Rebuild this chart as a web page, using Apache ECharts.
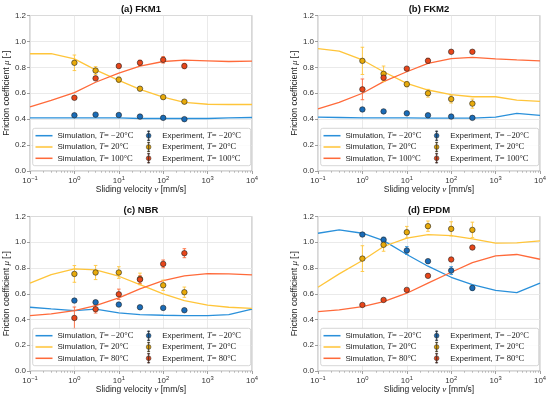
<!DOCTYPE html>
<html><head><meta charset="utf-8">
<script src="https://cdn.jsdelivr.net/npm/echarts@6/dist/echarts.min.js"></script>
<style>html,body{margin:0;padding:0;background:#fff}#c{width:550px;height:397px}</style>
</head><body><div id="c"></div>
<script>
// ---------------- data ----------------
const simVel = [0.1, 0.3, 1, 3, 10, 30, 100, 300, 1000, 3000, 10000];
const expVel = [1, 3, 10, 30, 100, 300];
const panelTitles = ['(a) FKM1', '(b) FKM2', '(c) NBR', '(d) EPDM'];
const tempLabels = [['−20', '20', '100'], ['−20', '20', '100'], ['−20', '20', '80'], ['−20', '20', '80']];
const xTickValues = [0.1, 1, 10, 100, 1000, 10000];
const yTickValues = [0, 0.2, 0.4, 0.6, 0.8, 1.0, 1.2];

// (a) FKM1
const simA_cold = [0.41, 0.41, 0.41, 0.41, 0.41, 0.405, 0.405, 0.405, 0.405, 0.41, 0.413];
const simA_room = [0.905, 0.905, 0.865, 0.78, 0.70, 0.63, 0.57, 0.53, 0.515, 0.513, 0.513];
const simA_hot  = [0.495, 0.545, 0.605, 0.685, 0.755, 0.81, 0.845, 0.855, 0.85, 0.845, 0.848];
const expA_cold = [0.43, 0.435, 0.432, 0.42, 0.41, 0.40];
const errA_cold = [0.01, 0.01, 0.01, 0.01, 0.01, 0.01];
const expA_room = [0.835, 0.775, 0.705, 0.635, 0.57, 0.535];
const errA_room = [0.06, 0.03, 0.02, 0.01, 0.01, 0.01];
const expA_hot  = [0.565, 0.715, 0.81, 0.835, 0.858, 0.81];
const errA_hot  = [0.01, 0.01, 0.015, 0.02, 0.025, 0.02];

// (b) FKM2
const simB_cold = [0.415, 0.413, 0.41, 0.41, 0.41, 0.408, 0.408, 0.408, 0.415, 0.445, 0.43];
const simB_room = [0.945, 0.925, 0.857, 0.766, 0.676, 0.625, 0.59, 0.573, 0.573, 0.547, 0.537];
const simB_hot  = [0.48, 0.53, 0.60, 0.69, 0.766, 0.83, 0.867, 0.877, 0.865, 0.857, 0.85];
const expB_cold = [0.475, 0.46, 0.445, 0.43, 0.42, 0.41];
const errB_cold = [0.01, 0.01, 0.01, 0.01, 0.01, 0.01];
const expB_room = [0.85, 0.75, 0.67, 0.60, 0.555, 0.52];
const errB_room = [0.105, 0.06, 0.02, 0.03, 0.03, 0.035];
const expB_hot  = [0.63, 0.72, 0.79, 0.85, 0.92, 0.92];
const errB_hot  = [0.08, 0.02, 0.01, 0.02, 0.01, 0.01];

// (c) NBR
const simC_cold = [0.495, 0.482, 0.469, 0.48, 0.451, 0.438, 0.433, 0.43, 0.43, 0.438, 0.48];
const simC_room = [0.682, 0.749, 0.793, 0.785, 0.736, 0.671, 0.599, 0.547, 0.511, 0.495, 0.487];
const simC_hot  = [0.43, 0.443, 0.469, 0.508, 0.568, 0.638, 0.702, 0.739, 0.757, 0.754, 0.746];
const expC_cold = [0.547, 0.534, 0.516, 0.495, 0.49, 0.472];
const errC_cold = [0.01, 0.01, 0.01, 0.01, 0.01, 0.01];
const expC_room = [0.754, 0.765, 0.765, 0.715, 0.666, 0.612];
const errC_room = [0.065, 0.055, 0.045, 0.045, 0.04, 0.04];
const expC_hot  = [0.412, 0.48, 0.596, 0.71, 0.832, 0.915];
const errC_hot  = [0.085, 0.03, 0.04, 0.03, 0.03, 0.035];

// (d) EPDM
const simD_cold = [1.07, 1.096, 1.07, 1.013, 0.905, 0.814, 0.728, 0.671, 0.627, 0.609, 0.682];
const simD_room = [0.651, 0.754, 0.858, 0.967, 1.032, 1.06, 1.052, 1.026, 0.993, 0.995, 1.011];
const simD_hot  = [0.461, 0.474, 0.50, 0.539, 0.604, 0.682, 0.767, 0.842, 0.894, 0.905, 0.868];
const expD_cold = [1.06, 1.019, 0.936, 0.853, 0.78, 0.645];
const errD_cold = [0.01, 0.02, 0.03, 0.01, 0.03, 0.02];
const expD_room = [0.873, 0.98, 1.078, 1.125, 1.104, 1.096];
const errD_room = [0.10, 0.05, 0.045, 0.04, 0.055, 0.06];
const expD_hot  = [0.513, 0.552, 0.63, 0.739, 0.866, 0.959];
const errD_hot  = [0.01, 0.01, 0.01, 0.01, 0.01, 0.01];

// ---------------- assembly ----------------
const panels = [
  {sim: [simA_cold, simA_room, simA_hot], exp: [expA_cold, expA_room, expA_hot], err: [errA_cold, errA_room, errA_hot]},
  {sim: [simB_cold, simB_room, simB_hot], exp: [expB_cold, expB_room, expB_hot], err: [errB_cold, errB_room, errB_hot]},
  {sim: [simC_cold, simC_room, simC_hot], exp: [expC_cold, expC_room, expC_hot], err: [errC_cold, errC_room, errC_hot]},
  {sim: [simD_cold, simD_room, simD_hot], exp: [expD_cold, expD_room, expD_hot], err: [errD_cold, errD_room, errD_hot]}
];

const SANS = '"Liberation Sans", Arial, sans-serif';
const SERIF = '"Liberation Serif", "Times New Roman", serif';
const lineColors = ['#2a90da', '#ffc53a', '#ff6a3a'];
const markColors = ['#1a6cb8', '#e8aa0a', '#e8461a'];

const G = [
  {l: 30, t: 15.5, w: 222, h: 155.5},
  {l: 318, t: 15.5, w: 222, h: 155.5},
  {l: 30, t: 216.5, w: 222, h: 154.5},
  {l: 318, t: 216.5, w: 222, h: 154.5}
];

const minorVals = [];
for (let e = -1; e < 4; e++) for (let m = 2; m < 10; m++) minorVals.push(+(m * Math.pow(10, e)).toPrecision(3));

const grid = [], xAxis = [], yAxis = [], series = [], legend = [], graphicEls = [];

G.forEach((g, p) => {
  grid.push({left: g.l, top: g.t, width: g.w, height: g.h, show: true, borderColor: '#9a9a9a', borderWidth: 0.8, backgroundColor: 'transparent', outerBoundsMode: 'none'});
  xAxis.push({
    type: 'log', gridIndex: p, logBase: 10, min: 0.1, max: 10000, splitNumber: 5,
    name: 'Sliding velocity {i|v} [mm/s]', nameLocation: 'middle', nameGap: 12,
    nameTextStyle: {fontFamily: SANS, fontSize: 8.5, color: '#222', rich: {i: {fontFamily: SERIF, fontStyle: 'italic', fontSize: 9, color: '#222'}}},
    axisLine: {show: false},
    axisTick: {show: true, length: 3, customValues: xTickValues, lineStyle: {color: '#888', width: 0.8}},
    axisLabel: {
      margin: 4, fontFamily: SANS, fontSize: 8, color: '#333', customValues: xTickValues,
      formatter: v => { const e = Math.round(Math.log10(v)); return '10{s|' + (e < 0 ? '−' + (-e) : e) + '}'; },
      rich: {s: {fontFamily: SANS, fontSize: 5.8, color: '#333', padding: [0, 0, 5, 0]}}
    },
    splitLine: {show: true, lineStyle: {color: '#e4e4e4', width: 0.8}}
  });
  yAxis.push({
    type: 'value', gridIndex: p, min: 0, max: 1.2, interval: 0.2,
    name: 'Friction coefficient {i|μ} [-]', nameLocation: 'middle', nameGap: 19,
    nameTextStyle: {fontFamily: SANS, fontSize: 8.5, color: '#222', rich: {i: {fontFamily: SERIF, fontStyle: 'italic', fontSize: 9, color: '#222'}}},
    axisLine: {show: false},
    axisTick: {show: true, length: 3, lineStyle: {color: '#888', width: 0.8}},
    axisLabel: {margin: 4, fontFamily: SANS, fontSize: 8, color: '#333', formatter: v => v.toFixed(1)},
    splitLine: {show: true, lineStyle: {color: '#e4e4e4', width: 0.8}}
  });

  const P = panels[p];
  const simNames = [], expNames = [];
  for (let k = 0; k < 3; k++) {
    const tl = tempLabels[p][k];
    const sName = 'Simulation, T = ' + tl + '°C';
    const eName = 'Experiment, T = ' + tl + '°C';
    simNames.push(sName); expNames.push(eName);
    series.push({
      type: 'line', name: sName, xAxisIndex: p, yAxisIndex: p, symbol: 'none', z: 2,
      lineStyle: {color: lineColors[k], width: 1.3}, itemStyle: {color: lineColors[k]},
      data: simVel.map((v, i) => [v, P.sim[k][i]])
    });
    const col = markColors[k], lcol = lineColors[k];
    series.push({
      type: 'custom', name: 'errbar' + p + k, xAxisIndex: p, yAxisIndex: p, z: 3,
      encode: {x: 0, y: [1, 2]},
      renderItem: (params, api) => {
        const x = api.value(0), lo = api.value(1), hi = api.value(2);
        const a = api.coord([x, hi]), b = api.coord([x, lo]);
        const c = 1.8, st = {stroke: lcol, lineWidth: 0.9};
        return {type: 'group', children: [
          {type: 'line', shape: {x1: a[0], y1: a[1], x2: b[0], y2: b[1]}, style: st},
          {type: 'line', shape: {x1: a[0] - c, y1: a[1], x2: a[0] + c, y2: a[1]}, style: st},
          {type: 'line', shape: {x1: b[0] - c, y1: b[1], x2: b[0] + c, y2: b[1]}, style: st}
        ]};
      },
      data: expVel.map((v, i) => [v, P.exp[k][i] - P.err[k][i], P.exp[k][i] + P.err[k][i]])
    });
    series.push({
      type: 'scatter', name: eName, xAxisIndex: p, yAxisIndex: p, z: 4,
      symbol: 'circle', symbolSize: 5.5,
      itemStyle: {color: col, borderColor: '#222', borderWidth: 0.6, opacity: 1},
      data: expVel.map((v, i) => [v, P.exp[k][i]])
    });
  }

  const fmt = n => { const parts = n.split(', T = '); return parts[0] + ', {i|T}{m|= ' + parts[1] + '}'; };
  const rich = {i: {fontFamily: SERIF, fontStyle: 'italic', fontSize: 8.5, color: '#222', lineHeight: 11},
                m: {fontFamily: SERIF, fontSize: 8.5, color: '#222', lineHeight: 11}};
  const gBottom = g.t + g.h;
  const rowTop = gBottom - 40.8;
  legend.push({
    orient: 'vertical', left: g.l + 5.5, top: rowTop, padding: 0, itemGap: 0.3, itemWidth: 17, itemHeight: 8, z: 6,
    data: simNames, selectedMode: false, formatter: fmt,
    icon: 'path://M0,0H20V1.8H0Z',
    itemStyle: {borderWidth: 0},
    textStyle: {fontFamily: SANS, fontSize: 8, color: '#222', lineHeight: 11, rich}
  });
  legend.push({
    orient: 'vertical', left: g.l + 116, top: rowTop, padding: 0, itemGap: 0.3, itemWidth: 17, itemHeight: 9.5, z: 6,
    data: expNames, selectedMode: false, formatter: fmt,
    icon: 'path://M2.7,0H3.3V12H2.7Z M1.5,0H4.5V0.6H1.5Z M1.5,11.4H4.5V12H1.5Z M6,6A3,3,0,1,1,0,6A3,3,0,1,1,6,6Z',
    itemStyle: {borderColor: '#222', borderWidth: 0.5},
    textStyle: {fontFamily: SANS, fontSize: 8, color: '#222', lineHeight: 11, rich}
  });
  graphicEls.push({
    type: 'rect', z: 5, silent: true,
    shape: {x: g.l + 2.7, y: gBottom - 42.7, width: g.w - 4, height: 37.4, r: 2},
    style: {fill: 'rgba(255,255,255,0.85)', stroke: '#cccccc', lineWidth: 0.8}
  });
  graphicEls.push({
    type: 'text', z: 5, silent: true, x: g.l + g.w / 2, y: g.t - 6.3,
    style: {text: panelTitles[p], fontFamily: SANS, fontSize: 9.5, fontWeight: 'bold', fill: '#111', align: 'center', verticalAlign: 'middle'}
  });
});

G.forEach((g, p) => {
  xAxis.push({
    type: 'log', gridIndex: p, logBase: 10, min: 0.1, max: 10000, position: 'bottom',
    axisLine: {show: false}, axisLabel: {show: false}, splitLine: {show: false},
    axisTick: {show: true, length: 1.8, customValues: minorVals, lineStyle: {color: '#999', width: 0.6}}
  });
});

const chart = echarts.init(document.getElementById('c'), null, {renderer: 'canvas'});
chart.setOption({
  animation: false,
  backgroundColor: '#ffffff',
  grid, xAxis, yAxis, series, legend,
  graphic: {elements: graphicEls}
});
</script>
</body></html>
